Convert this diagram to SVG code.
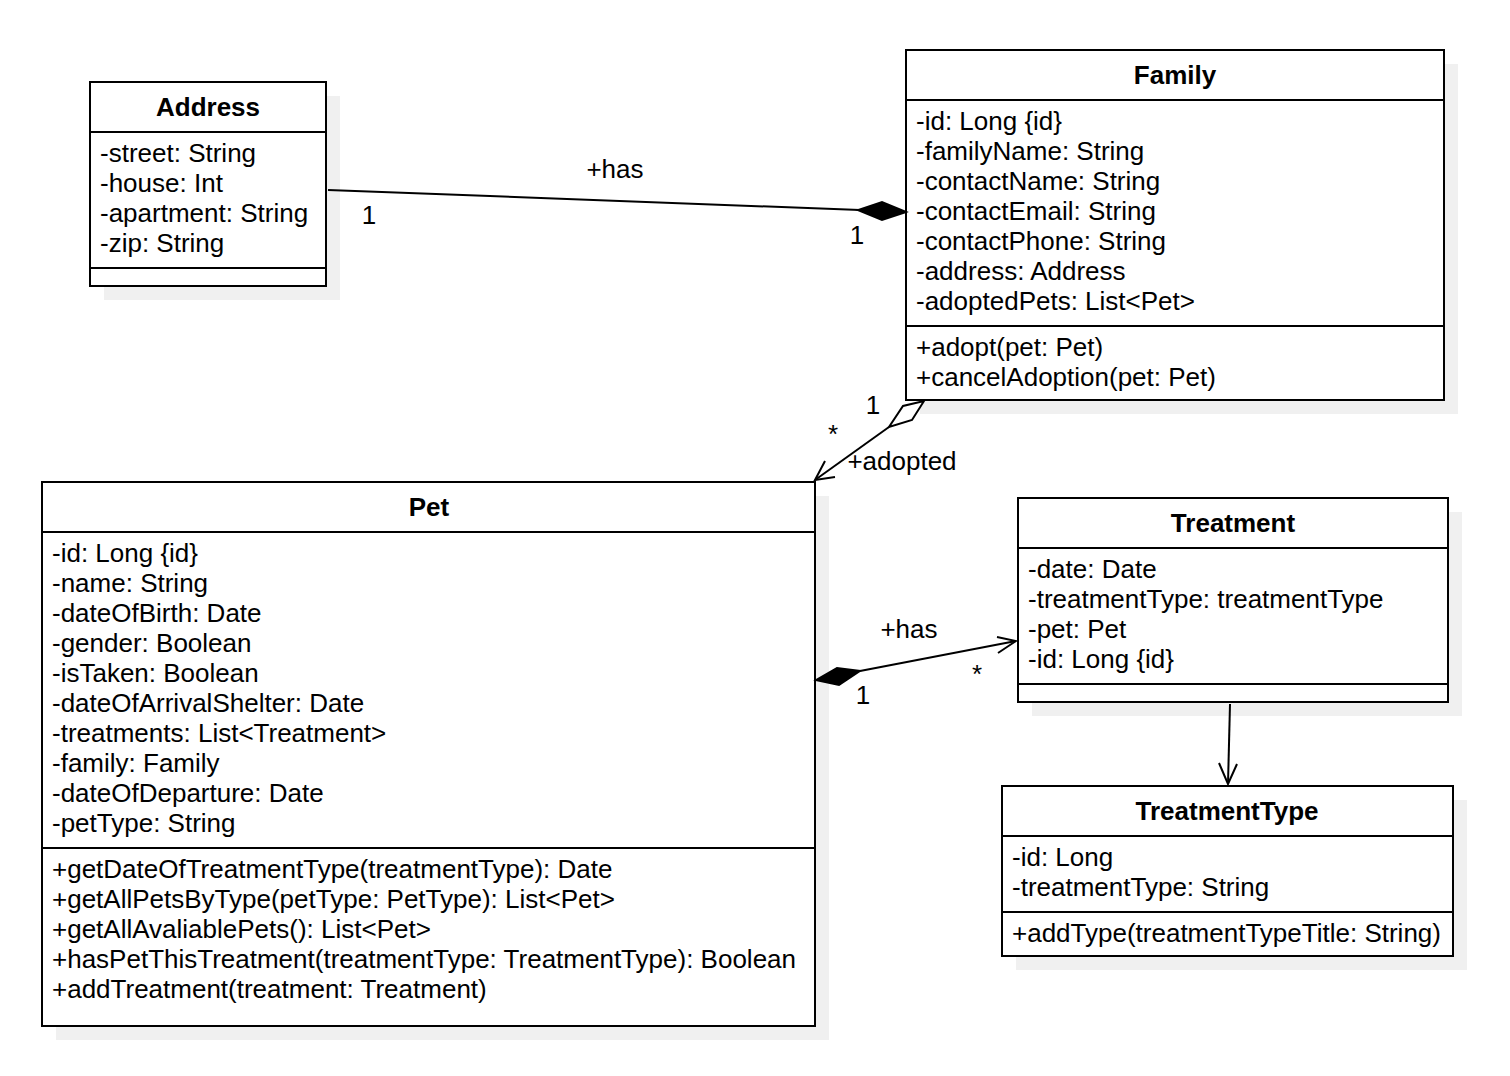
<svg xmlns="http://www.w3.org/2000/svg" width="1510" height="1076" viewBox="0 0 1510 1076">
<style>
text{font-family:"Liberation Sans",Arial,sans-serif;font-size:26px;fill:#000}
.t{font-weight:bold;text-anchor:middle}
.box{fill:#fff;stroke:#000;stroke-width:2}
.sh{fill:#f0f0f0}
.ln{stroke:#000;stroke-width:2;fill:none}
.c{text-anchor:middle}
</style>
<rect width="1510" height="1076" fill="#fff"/>
<g id="Address">
<rect class="sh" x="104" y="96" width="236" height="204"/>
<rect class="box" x="90" y="82" width="236" height="204"/>
<line class="ln" x1="90" y1="132" x2="326" y2="132"/>
<line class="ln" x1="90" y1="268" x2="326" y2="268"/>
<text class="t" x="208" y="116">Address</text>
<text x="100" y="162">-street: String</text>
<text x="100" y="192">-house: Int</text>
<text x="100" y="222">-apartment: String</text>
<text x="100" y="252">-zip: String</text>
</g>
<g id="Family">
<rect class="sh" x="920" y="64" width="538" height="350"/>
<rect class="box" x="906" y="50" width="538" height="350"/>
<line class="ln" x1="906" y1="100" x2="1444" y2="100"/>
<line class="ln" x1="906" y1="326" x2="1444" y2="326"/>
<text class="t" x="1175" y="84">Family</text>
<text x="916" y="130">-id: Long {id}</text>
<text x="916" y="160">-familyName: String</text>
<text x="916" y="190">-contactName: String</text>
<text x="916" y="220">-contactEmail: String</text>
<text x="916" y="250">-contactPhone: String</text>
<text x="916" y="280">-address: Address</text>
<text x="916" y="310">-adoptedPets: List&lt;Pet&gt;</text>
<text x="916" y="356">+adopt(pet: Pet)</text>
<text x="916" y="386">+cancelAdoption(pet: Pet)</text>
</g>
<g id="Pet">
<rect class="sh" x="56" y="496" width="773" height="544"/>
<rect class="box" x="42" y="482" width="773" height="544"/>
<line class="ln" x1="42" y1="532" x2="815" y2="532"/>
<line class="ln" x1="42" y1="848" x2="815" y2="848"/>
<text class="t" x="429" y="516">Pet</text>
<text x="52" y="562">-id: Long {id}</text>
<text x="52" y="592">-name: String</text>
<text x="52" y="622">-dateOfBirth: Date</text>
<text x="52" y="652">-gender: Boolean</text>
<text x="52" y="682">-isTaken: Boolean</text>
<text x="52" y="712">-dateOfArrivalShelter: Date</text>
<text x="52" y="742">-treatments: List&lt;Treatment&gt;</text>
<text x="52" y="772">-family: Family</text>
<text x="52" y="802">-dateOfDeparture: Date</text>
<text x="52" y="832">-petType: String</text>
<text x="52" y="878">+getDateOfTreatmentType(treatmentType): Date</text>
<text x="52" y="908">+getAllPetsByType(petType: PetType): List&lt;Pet&gt;</text>
<text x="52" y="938">+getAllAvaliablePets(): List&lt;Pet&gt;</text>
<text x="52" y="968">+hasPetThisTreatment(treatmentType: TreatmentType): Boolean</text>
<text x="52" y="998">+addTreatment(treatment: Treatment)</text>
</g>
<g id="Treatment">
<rect class="sh" x="1032" y="512" width="430" height="204"/>
<rect class="box" x="1018" y="498" width="430" height="204"/>
<line class="ln" x1="1018" y1="548" x2="1448" y2="548"/>
<line class="ln" x1="1018" y1="684" x2="1448" y2="684"/>
<text class="t" x="1233" y="532">Treatment</text>
<text x="1028" y="578">-date: Date</text>
<text x="1028" y="608">-treatmentType: treatmentType</text>
<text x="1028" y="638">-pet: Pet</text>
<text x="1028" y="668">-id: Long {id}</text>
</g>
<g id="TreatmentType">
<rect class="sh" x="1016" y="800" width="451" height="170"/>
<rect class="box" x="1002" y="786" width="451" height="170"/>
<line class="ln" x1="1002" y1="836" x2="1453" y2="836"/>
<line class="ln" x1="1002" y1="912" x2="1453" y2="912"/>
<text class="t" x="1227" y="820">TreatmentType</text>
<text x="1012" y="866">-id: Long</text>
<text x="1012" y="896">-treatmentType: String</text>
<text x="1012" y="942">+addType(treatmentTypeTitle: String)</text>
</g>
<g id="connectors">
<line class="ln" x1="328" y1="190" x2="860" y2="210"/>
<polygon points="906,212 882,220 858,210 882,202" fill="#000" stroke="#000" stroke-width="2"/>
<text class="c" x="615" y="178">+has</text>
<text class="c" x="369" y="224">1</text>
<text class="c" x="857" y="244">1</text>

<polygon points="924,401 912,420 889,427 903,406" fill="#fff" stroke="#000" stroke-width="2"/>
<line class="ln" x1="889" y1="427" x2="815" y2="480"/>
<polyline class="ln" points="825,461 815,480 835,477"/>
<text class="c" x="873" y="414">1</text>
<text class="c" x="833" y="443">*</text>
<text class="c" x="902" y="470">+adopted</text>

<polygon points="816,680 837,668 860,671 839,685" fill="#000" stroke="#000" stroke-width="2"/>
<line class="ln" x1="860" y1="671" x2="1016" y2="641"/>
<polyline class="ln" points="997,637 1016,641 998,653"/>
<text class="c" x="909" y="638">+has</text>
<text class="c" x="977" y="683">*</text>
<text class="c" x="863" y="704">1</text>

<line class="ln" x1="1230" y1="704" x2="1228" y2="784"/>
<polyline class="ln" points="1219,763 1228,784 1237,764"/>
</g>
</svg>
